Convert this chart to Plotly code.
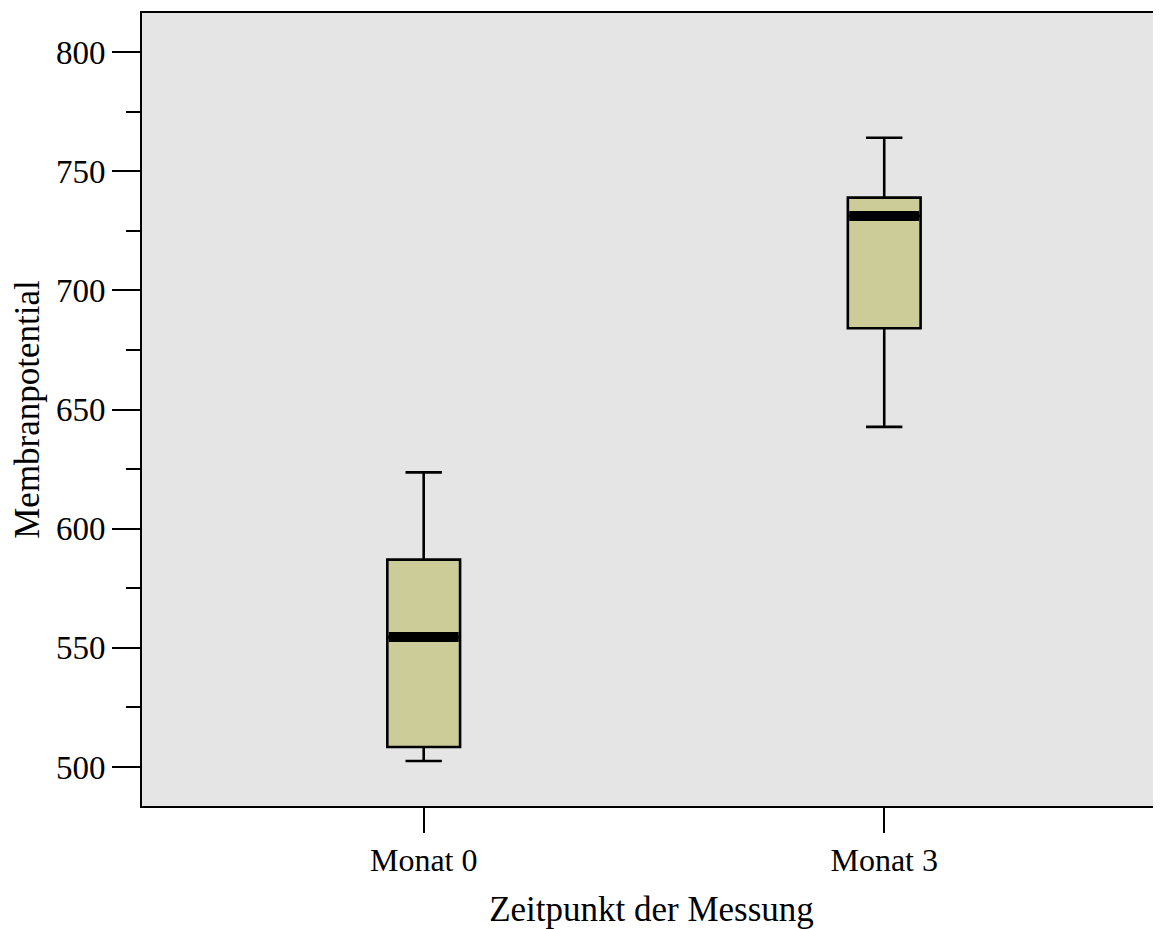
import plotly.graph_objects as go

categories = ["Monat 0", "Monat 3"]
lower_whisker = [502.5, 642.7]
q1_values = [508.4, 684.1]
median_values = [554.5, 731.2]
q3_values = [587.0, 738.9]
upper_whisker = [623.6, 764.0]

y_tickvals = [500, 550, 600, 650, 700, 750, 800]

BOX_W = 0.158
FONT = "Liberation Serif, Times New Roman, serif"

fig = go.Figure()
xs = list(range(len(categories)))
fig.add_trace(go.Box(
    x=xs, q1=q1_values, median=median_values, q3=q3_values,
    lowerfence=lower_whisker, upperfence=upper_whisker,
    width=BOX_W, whiskerwidth=0.5,
    fillcolor="#CCCC99", line=dict(color="black", width=2.6),
    boxpoints=False, showlegend=False, hoverinfo="skip",
))
for xi, m in zip(xs, median_values):
    fig.add_trace(go.Scatter(
        x=[xi - BOX_W / 2 + 0.003, xi + BOX_W / 2 - 0.003], y=[m, m],
        mode="lines", line=dict(color="black", width=10),
        showlegend=False, hoverinfo="skip",
    ))

fig.update_layout(
    width=1153, height=921,
    margin=dict(l=134, r=0, t=5, b=123),
    paper_bgcolor="white", plot_bgcolor="#E5E5E5",
    font=dict(family=FONT, size=32, color="black"),
    xaxis=dict(
        range=[-0.6117, 1.601], tickvals=xs, ticktext=categories,
        showgrid=False, zeroline=False,
        showline=True, mirror=True, linecolor="black", linewidth=2,
        ticks="outside", ticklen=25, tickwidth=2, tickcolor="black",
        tickfont=dict(family=FONT, size=32),
        title=dict(text="Zeitpunkt der Messung", font=dict(family=FONT, size=35), standoff=20),
    ),
    yaxis=dict(
        range=[483.64, 816.36], tickvals=y_tickvals,
        showgrid=False, zeroline=False,
        showline=True, mirror=False, linecolor="black", linewidth=2,
        ticks="outside", ticklen=28, tickwidth=2, tickcolor="black",
        minor=dict(ticks="outside", ticklen=14, dtick=25, tickwidth=2, tickcolor="black", showgrid=False),
        tickfont=dict(family=FONT, size=33),
        title=dict(text="Membranpotential", font=dict(family=FONT, size=35), standoff=8),
    ),
)

fig.write_html("out.html")
